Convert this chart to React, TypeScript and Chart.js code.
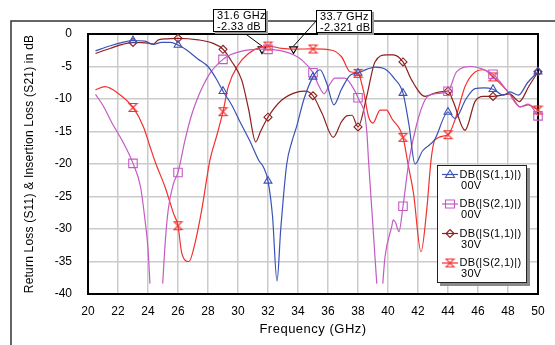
import React, { useEffect, useRef } from "react";
import { Chart, registerables } from "chart.js";

Chart.register(...registerables);

// ---------- data ----------
const MARKER_FREQS = [23, 26, 29, 32, 35, 38, 41, 44, 47, 50];

const S11_00V_F = [20.5, 21.5, 22.3, 23, 23.8, 24.35, 24.9, 25.5, 26, 26.6, 27.3, 28, 28.5, 29, 29.6, 30.13, 30.8, 31.4, 31.7, 32, 32.3, 32.6, 32.85, 33.25, 33.6, 33.9, 34.4, 35, 35.47, 35.9, 36.4, 36.9, 37.5, 38, 38.6, 39.13, 39.8, 40.4, 41, 41.4, 41.8, 42.3, 43.1, 44, 44.47, 45.2, 45.8, 46.4, 47, 47.7, 48.13, 48.7, 49.3, 50];
const S11_00V_DB = [-2.6, -1.8, -1.3, -1.0, -1.1, -1.6, -1.3, -1.3, -1.7, -2.5, -3.8, -5.0, -6.7, -8.8, -11.0, -13.5, -16.5, -19.5, -20.5, -22.6, -28, -38, -30, -20, -16.5, -14.3, -10, -6.6, -5.5, -7.5, -10.9, -8.5, -6.3, -6.0, -5.4, -5.1, -5.4, -6.8, -9.1, -14, -20, -18, -16.3, -12.0, -13, -10, -8.4, -8.3, -8.5, -9.4, -8.9, -9.4, -7.5, -5.8];

const S21_00V_F = [20.5, 21.0, 21.6, 22.3, 23, 23.5, 23.8, 24.0, 24.13, 24.55, 24.98, 25.15, 25.35, 25.7, 26, 26.47, 26.9, 27.35, 28.13, 29, 29.5, 30.13, 30.9, 31.6, 32, 32.9, 33.7, 34.25, 35, 35.35, 35.75, 36.1, 36.47, 37.13, 37.6, 38, 38.58, 38.7, 38.95, 39.25, 39.45, 39.65, 39.8, 40.25, 40.35, 40.5, 40.73, 41, 41.4, 41.9, 42.5, 43.1, 44, 44.58, 45.58, 46.3, 47, 48.0, 48.8, 49.35, 50];
const S21_00V_DB = [-9.3, -11.0, -13.7, -16.5, -19.9, -23.5, -28.6, -33, -38.4, null, -38.4, -32, -27, -23, -21.3, -16.3, -12.5, -9.6, -6.05, -3.9, -3.2, -2.7, -2.4, -2.33, -2.36, -2.6, -3.2, -4.0, -5.95, -7.8, -9.2, -7.8, -6.8, -6.8, -8.0, -9.8, -14.8, -19.4, -28, -38.4, null, -38.4, -34.3, -29.6, -28.6, -29, -30.4, -26.5, -19.5, -14, -10, -9.2, -8.8, -5.8, -5.0, -5.4, -6.2, -8.9, -11.2, -10.8, -12.6];

const S11_30V_F = [20.5, 21.5, 22.3, 23, 24.0, 24.35, 24.7, 25.3, 26, 27.35, 28.3, 29, 29.6, 30.25, 30.7, 31.18, 31.5, 32, 32.9, 34.0, 34.47, 35, 35.6, 36.35, 36.9, 37.25, 37.6, 38, 38.58, 39.13, 39.9, 40.35, 41, 41.58, 42.47, 43.13, 44, 44.35, 45.13, 45.8, 46.35, 47, 47.58, 48.1, 48.75, 49.4, 50];
const S11_30V_DB = [-3.0, -2.2, -1.6, -1.3, -1.4, -1.55, -0.9, -0.75, -0.67, -0.9, -1.4, -2.35, -4.3, -7.1, -11.5, -16.6, -15, -12.8, -10.2, -8.9, -8.8, -9.5, -12.2, -15.9, -13.5, -12.6, -12.5, -14.3, -9.6, -4.3, -3.2, -3.2, -4.3, -7.1, -9.6, -9.1, -8.8, -10.4, -14.8, -10.4, -9.6, -9.6, -9.4, -9.2, -10.4, -8, -5.8];

const S21_30V_F = [20.5, 21.13, 22.0, 23, 23.7, 24.13, 24.5, 25.13, 25.7, 26, 26.25, 26.73, 27.13, 27.58, 28.13, 28.6, 29, 29.35, 30.0, 30.7, 31.58, 32, 32.9, 33.7, 35, 36.25, 36.9, 37.47, 38, 38.35, 38.7, 39.0, 39.47, 39.9, 40.25, 41, 41.35, 41.7, 42.2, 42.58, 42.87, 43.13, 44, 44.47, 45.13, 45.7, 46.35, 47, 47.68, 48.25, 48.8, 49.35, 50];
const S21_30V_DB = [-8.6, -8.1, -9.1, -11.3, -14.3, -17.3, -19.8, -23.5, -27.6, -29.5, -33.7, -35.0, -32.2, -27.1, -19.4, -15.5, -11.95, -8.1, -4.8, -3.0, -1.95, -1.85, -2.2, -2.32, -2.3, -2.5, -3.5, -5.8, -6.05, -8.6, -12.7, -13.7, -11.7, -11.7, -13, -15.9, -20.2, -24.5, -33.5, -27.1, -19.4, -16.3, -15.5, -13.2, -8.1, -6.05, -5.5, -6.6, -8.1, -9.6, -11.2, -10.9, -11.7];

const ANNOT_F = [31.6, 33.7];
const ANNOT_DB = [-2.33, -2.321];
const ANNOT_TEXT = [["31.6 GHz", "-2.33 dB"], ["33.7 GHz", "-2.321 dB"]];

const LEGEND_LABELS = [
  ["DB(|S(1,1)|)", "00V"],
  ["DB(|S(2,1)|)", "00V"],
  ["DB(|S(1,1)|)", "30V"],
  ["DB(|S(2,1)|)", "30V"],
];

const X_TITLE = "Frequency (GHz)";
const Y_TITLE = "Return Loss (S11) & Insertion Loss (S21) in dB";

// ---------- styles ----------
const BLUE = "#3b52b6";
const MAGENTA = "#c45bc4";
const BROWN = "#8e1f1f";
const RED = "#f2302e";
const FONT = "'Liberation Sans', Arial, sans-serif";

function makeHourglass(color: string): HTMLCanvasElement {
  const c = document.createElement("canvas");
  c.width = 11;
  c.height = 11;
  const g = c.getContext("2d")!;
  g.strokeStyle = color;
  g.lineWidth = 1.1;
  g.beginPath();
  g.moveTo(1.5, 1.5);
  g.lineTo(9.5, 1.5);
  g.lineTo(1.5, 9.5);
  g.lineTo(9.5, 9.5);
  g.closePath();
  g.stroke();
  return c;
}

function toXY(f: number[], db: (number | null)[]) {
  return f.map((x, i) => ({ x, y: db[i] }));
}

function drawMarker(ctx: CanvasRenderingContext2D, kind: string, x: number, y: number, color: string, img?: HTMLCanvasElement) {
  ctx.save();
  ctx.strokeStyle = color;
  ctx.lineWidth = 1.1;
  ctx.beginPath();
  if (kind === "tri") {
    ctx.moveTo(x, y - 4.5);
    ctx.lineTo(x + 4.5, y + 3);
    ctx.lineTo(x - 4.5, y + 3);
    ctx.closePath();
    ctx.stroke();
  } else if (kind === "rect") {
    ctx.rect(x - 4.5, y - 4, 9, 8);
    ctx.stroke();
  } else if (kind === "diamond") {
    ctx.moveTo(x, y - 4);
    ctx.lineTo(x + 4, y);
    ctx.lineTo(x, y + 4);
    ctx.lineTo(x - 4, y);
    ctx.closePath();
    ctx.stroke();
  } else if (img) {
    ctx.drawImage(img, x - img.width / 2, y - img.height / 2);
  }
  ctx.restore();
}

export default function App() {
  const ref = useRef<HTMLCanvasElement>(null);

  useEffect(() => {
    const hgRed = makeHourglass(RED);
    const mk = (f: number[], r: number) => f.map((x) => (MARKER_FREQS.includes(x) ? r : 0));

    const overlay = {
      id: "overlay",
      beforeDraw(chart: any) {
        const ctx = chart.ctx as CanvasRenderingContext2D;
        ctx.save();
        ctx.fillStyle = "#fff";
        ctx.fillRect(0, 0, chart.width, chart.height);
        ctx.strokeStyle = "#333";
        ctx.lineWidth = 1.5;
        ctx.beginPath();
        ctx.moveTo(11, chart.height + 2);
        ctx.lineTo(11, 21);
        ctx.lineTo(chart.width + 2, 21);
        ctx.stroke();
        ctx.restore();
      },
      beforeDatasetsDraw(chart: any) {
        const { ctx, chartArea: a } = chart;
        ctx.save();
        ctx.strokeStyle = "#000";
        ctx.lineWidth = 2;
        ctx.strokeRect(a.left, a.top, a.right - a.left, a.bottom - a.top);
        ctx.restore();
      },
      afterDraw(chart: any) {
        const ctx = chart.ctx as CanvasRenderingContext2D;
        const a = chart.chartArea;
        const xs = chart.scales.x;
        const ys = chart.scales.y;
        ctx.save();
        (ctx as any).letterSpacing = "0.5px";
        ctx.fillStyle = "#000";
        // axis titles
        ctx.font = `13px ${FONT}`;
        ctx.textAlign = "center";
        ctx.textBaseline = "middle";
        ctx.fillText(X_TITLE, (a.left + a.right) / 2, 329);
        ctx.save();
        ctx.translate(30, (a.top + a.bottom) / 2);
        ctx.rotate(-Math.PI / 2);
        (ctx as any).letterSpacing = "0.2px";
        ctx.font = `12px ${FONT}`;
        ctx.fillText(Y_TITLE, 0, 0);
        ctx.restore();

        // annotations
        const boxes = [
          { x: 213, y: 9, w: 53, h: 23, ax: 243, ay: 32 },
          { x: 316, y: 10, w: 56, h: 23, ax: 317, ay: 20 },
        ];
        ctx.font = `11px ${FONT}`;
        ctx.textAlign = "left";
        (ctx as any).letterSpacing = "0.3px";
        boxes.forEach((b, i) => {
          const px = xs.getPixelForValue(ANNOT_F[i]);
          const py = ys.getPixelForValue(ANNOT_DB[i]);
          ctx.strokeStyle = "#000";
          ctx.lineWidth = 1;
          ctx.beginPath();
          ctx.moveTo(b.ax, b.ay);
          ctx.lineTo(px, py - 3);
          ctx.stroke();
          ctx.fillStyle = "#9a9a9a";
          ctx.fillRect(b.x + 2, b.y + 2, b.w, b.h);
          ctx.fillStyle = "#fff";
          ctx.fillRect(b.x, b.y, b.w, b.h);
          ctx.strokeStyle = "#000";
          ctx.strokeRect(b.x + 0.5, b.y + 0.5, b.w - 1, b.h - 1);
          ctx.fillStyle = "#000";
          ctx.fillText(ANNOT_TEXT[i][0], b.x + 4, b.y + 6.5);
          ctx.fillText(ANNOT_TEXT[i][1], b.x + 4, b.y + 17.5);
        });

        // legend
        const L = { x: 437, y: 165, w: 90, h: 118 };
        ctx.fillStyle = "#8a8a8a";
        ctx.fillRect(L.x + 3, L.y + 3, L.w, L.h);
        ctx.fillStyle = "#fff";
        ctx.fillRect(L.x, L.y, L.w, L.h);
        ctx.strokeStyle = "#222";
        ctx.lineWidth = 1;
        ctx.strokeRect(L.x + 0.5, L.y + 0.5, L.w - 1, L.h - 1);
        const cols = [BLUE, MAGENTA, BROWN, RED];
        const kinds = ["tri", "rect", "diamond", "hg"];
        LEGEND_LABELS.forEach((lab, i) => {
          const yy = 174.5 + i * 29.5;
          ctx.strokeStyle = cols[i];
          ctx.lineWidth = 1.2;
          ctx.beginPath();
          ctx.moveTo(442, yy);
          ctx.lineTo(458, yy);
          ctx.stroke();
          drawMarker(ctx, kinds[i], 450, yy, cols[i], hgRed);
          ctx.fillStyle = "#000";
          ctx.fillText(lab[0], 459.5, yy);
          ctx.fillText(lab[1], 461, yy + 11);
        });
        ctx.restore();
      },
    };

    const lineDs = (label: string, f: number[], db: (number | null)[], color: string, style: any, r: number) => ({
      label,
      data: toXY(f, db),
      borderColor: color,
      backgroundColor: "rgba(0,0,0,0)",
      borderWidth: 1.2,
      pointStyle: style,
      pointRadius: mk(f, r),
      pointBorderColor: color,
      pointBorderWidth: 1.1,
      pointBackgroundColor: "rgba(0,0,0,0)",
      cubicInterpolationMode: "monotone",
      spanGaps: false,
      clip: false,
    });

    const chart = new Chart(ref.current!, {
      type: "line",
      data: {
        datasets: [
          lineDs("DB(|S(1,1)|) 00V", S11_00V_F, S11_00V_DB, BLUE, "triangle", 4.5),
          lineDs("DB(|S(2,1)|) 00V", S21_00V_F, S21_00V_DB, MAGENTA, "rect", 6),
          lineDs("DB(|S(1,1)|) 30V", S11_30V_F, S11_30V_DB, BROWN, "rectRot", 4),
          lineDs("DB(|S(2,1)|) 30V", S21_30V_F, S21_30V_DB, RED, hgRed, 5),
          {
            label: "markers",
            data: toXY(ANNOT_F, ANNOT_DB),
            showLine: false,
            pointStyle: "triangle",
            rotation: 180,
            pointRadius: 4.5,
            pointBorderColor: "#000",
            pointBorderWidth: 1.1,
            pointBackgroundColor: "rgba(0,0,0,0)",
            clip: false,
          } as any,
        ] as any,
      },
      options: {
        animation: false,
        responsive: false,
        maintainAspectRatio: false,
        events: [],
        layout: { padding: { top: 34, right: 17, left: 0, bottom: 0 } },
        plugins: { legend: { display: false }, tooltip: { enabled: false } },
        scales: {
          x: {
            type: "linear",
            min: 20,
            max: 50,
            ticks: { stepSize: 2, color: "#000", font: { family: FONT, size: 12 }, padding: 10, maxRotation: 0, autoSkip: false },
            grid: { color: "#cbcbcb", lineWidth: 1.5, drawTicks: false },
            border: { color: "#000", width: 2 },
            afterFit: (s: any) => {
              s.height = 51;
            },
          },
          y: {
            type: "linear",
            min: -40,
            max: 0,
            ticks: { stepSize: 5, color: "#000", font: { family: FONT, size: 12 }, padding: 16 },
            grid: { color: "#cbcbcb", lineWidth: 1.5, drawTicks: false },
            border: { color: "#000", width: 2 },
            afterFit: (s: any) => {
              s.width = 88;
            },
          },
        },
      } as any,
      plugins: [overlay],
    });
    return () => chart.destroy();
  }, []);

  return (
    <div style={{ position: "fixed", left: 0, top: 0, width: 555, height: 345, background: "#fff" }}>
      <canvas ref={ref} width={555} height={345} style={{ display: "block" }} />
    </div>
  );
}
